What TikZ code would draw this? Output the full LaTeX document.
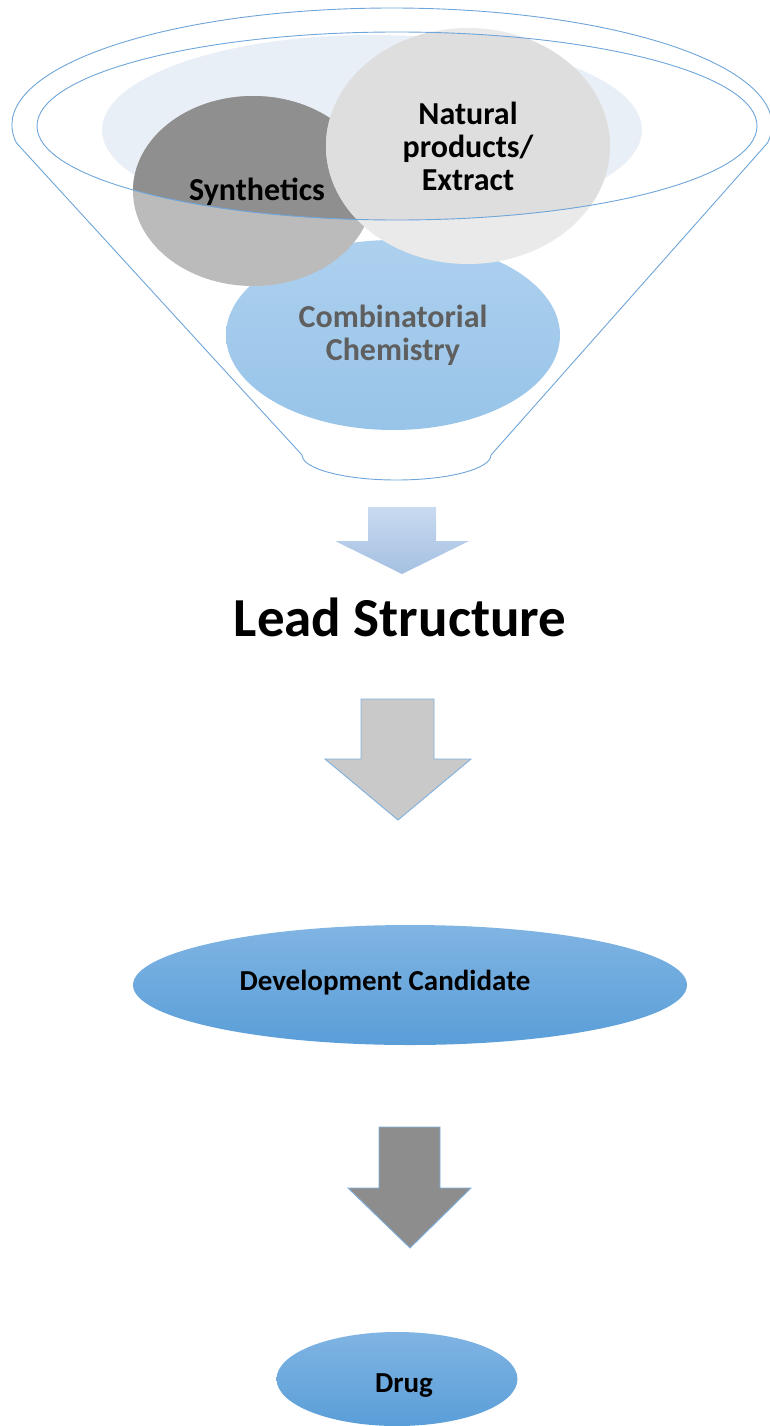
\documentclass[tikz,border=0pt]{standalone}
\usepackage{fontspec}
\setmainfont{Carlito}
\usetikzlibrary{shapes.geometric}

\definecolor{funnelline}{RGB}{110,165,218}
\definecolor{mouthfill}{RGB}{233,239,247}
\definecolor{synthdark}{RGB}{143,143,143}
\definecolor{synthlight}{RGB}{187,187,187}
\definecolor{natdark}{RGB}{222,222,222}
\definecolor{natlight}{RGB}{234,234,234}
\definecolor{combitop}{RGB}{174,208,239}
\definecolor{combibot}{RGB}{151,196,232}
\definecolor{combitext}{RGB}{95,95,95}
\definecolor{leadtop}{RGB}{200,218,240}
\definecolor{leadbot}{RGB}{165,192,226}
\definecolor{stepgrey}{RGB}{201,201,201}
\definecolor{stepdark}{RGB}{141,141,141}
\definecolor{arrowline}{RGB}{127,176,222}
\definecolor{resulttop}{RGB}{128,180,227}
\definecolor{resultbot}{RGB}{90,158,216}

\begin{document}
\begin{tikzpicture}[x=1pt,y=1pt,
  blob/.style={ellipse,inner sep=0pt},
  funneltext/.style={font=\bfseries\fontsize{32}{33}\selectfont,align=center},
  result/.style={ellipse,inner sep=0pt,top color=resulttop,bottom color=resultbot},
  resulttext/.style={font=\bfseries\fontsize{29}{30}\selectfont},
  blockarrow/.style={draw=arrowline,line width=0.9pt,line join=miter}]

\useasboundingbox (0,0) rectangle (770,-1426);

% mouth of the funnel
\node[blob,fill=mouthfill,minimum width=540pt,minimum height=190pt] (mouth) at (372,-130) {};

\node[blob,top color=combitop,bottom color=combibot,minimum width=334pt,minimum height=190pt,
  funneltext,text=combitext] (combi) at (393,-335) {Combinatorial\\Chemistry};

% darker where it sits inside the rim
\fill[synthlight] (253,-191) ellipse [x radius=120, y radius=95];
\begin{scope}
\clip (397,-126) ellipse [x radius=360, y radius=94];
\fill[synthdark] (253,-191) ellipse [x radius=120, y radius=95];
\end{scope}
\node[blob,minimum width=240pt,minimum height=190pt,funneltext] (synth) at (257,-192) {Synthetics};

\fill[natlight] (468,-146) ellipse [x radius=142, y radius=118];
\begin{scope}
\clip (397,-126) ellipse [x radius=360, y radius=94];
\fill[natdark] (468,-146) ellipse [x radius=142, y radius=118];
\end{scope}
\node[blob,minimum width=284pt,minimum height=236pt,funneltext] (natural) at (468,-146) {Natural\\products/\\Extract};

% rim and body
\draw[funnelline,line width=0.9pt] (397,-126) ellipse [x radius=360, y radius=94];
\draw[funnelline,line width=0.9pt] (16.5,-143)
  arc[start angle=188.85, end angle=-8.85, x radius=380, y radius=117] -- (491,-455)
  arc[start angle=0, end angle=-180, x radius=94.5, y radius=25] -- cycle;

\shade[top color=leadtop,bottom color=leadbot] (368,-507) -- (436,-507) -- (436,-541) -- (469,-541)
  -- (402,-574) -- (335,-541) -- (368,-541) -- cycle;

\node[font=\bfseries\fontsize{55}{60}\selectfont] (lead) at (400,-617) {Lead Structure};

\filldraw[blockarrow,fill=stepgrey] (361,-699) -- (434,-699) -- (434,-759) -- (471,-759)
  -- (398,-820) -- (325,-759) -- (361,-759) -- cycle;

\node[result,minimum width=554pt,minimum height=120pt] (dev) at (410,-985) {};
\node[resulttext] (devlabel) at (385,-983) {Development Candidate};

\filldraw[blockarrow,fill=stepdark] (379,-1127) -- (440,-1127) -- (440,-1188) -- (471,-1188)
  -- (410,-1248) -- (348,-1188) -- (379,-1188) -- cycle;

\node[result,minimum width=241pt,minimum height=94pt] (drug) at (397,-1379) {};
\node[resulttext] (druglabel) at (404,-1386) {Drug};

\end{tikzpicture}
\end{document}
